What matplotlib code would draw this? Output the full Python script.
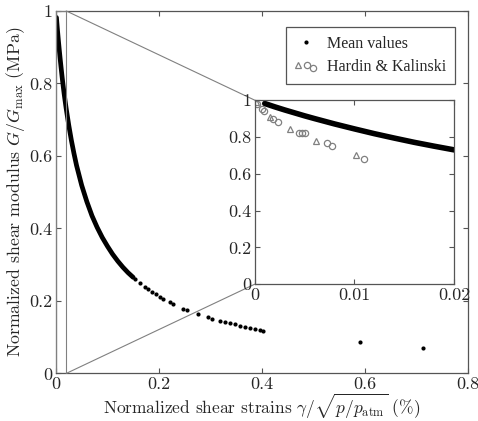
import matplotlib
matplotlib.use("Agg")
import matplotlib.pyplot as plt
from matplotlib.lines import Line2D
from matplotlib.patches import Rectangle, ConnectionPatch
from matplotlib.ticker import FuncFormatter
from matplotlib.legend_handler import HandlerBase

plt.rcParams['font.family'] = 'serif'
plt.rcParams['font.serif'] = ['cmr10', 'DejaVu Serif']
plt.rcParams['mathtext.fontset'] = 'cm'
plt.rcParams['axes.formatter.use_mathtext'] = True

# mean G/Gmax curve, densely sampled part
dense_x = [0.001, 0.002, 0.003, 0.004, 0.005, 0.006, 0.008, 0.010, 0.012, 0.014,
           0.016, 0.018, 0.020, 0.025, 0.030, 0.035, 0.040, 0.050, 0.060, 0.070,
           0.080, 0.090, 0.100, 0.110, 0.120, 0.130, 0.140, 0.150]
dense_y = [0.982, 0.964, 0.947, 0.931, 0.915, 0.900, 0.871, 0.844, 0.818, 0.794,
           0.771, 0.750, 0.730, 0.684, 0.643, 0.607, 0.574, 0.519, 0.474, 0.435,
           0.403, 0.375, 0.351, 0.329, 0.310, 0.293, 0.278, 0.265]

# sparser mean points at larger strains
sparse_x = [0.153, 0.163, 0.173, 0.179, 0.186, 0.194, 0.202, 0.208, 0.221, 0.227,
            0.247, 0.254, 0.276, 0.295, 0.303, 0.318, 0.328, 0.338, 0.347, 0.357,
            0.367, 0.377, 0.386, 0.396, 0.402, 0.590, 0.712]
sparse_y = [0.261, 0.249, 0.238, 0.232, 0.225, 0.218, 0.211, 0.206, 0.196, 0.192,
            0.179, 0.175, 0.164, 0.155, 0.151, 0.145, 0.141, 0.138, 0.135, 0.131,
            0.128, 0.125, 0.123, 0.120, 0.118, 0.087, 0.071]

# Hardin & Kalinski
hk_tri_x = [0.0001, 0.0015, 0.0035, 0.0061, 0.0102]
hk_tri_y = [0.99, 0.91, 0.845, 0.78, 0.70]
hk_circ_x = [0.0002, 0.0007, 0.0009, 0.0018, 0.0023, 0.0044, 0.0047, 0.0050,
             0.0072, 0.0077, 0.0110]
hk_circ_y = [0.98, 0.95, 0.94, 0.90, 0.88, 0.82, 0.82, 0.82, 0.77, 0.75, 0.68]

txt = '#262626'
spine = '#555555'
gray = '#808080'
fmt = FuncFormatter(lambda v, p: '%g' % round(v, 6))


class HandlerHK(HandlerBase):
    # triangle followed by two staggered circles
    def create_artists(self, legend, orig, xd, yd, w, h, fontsize, trans):
        tri, circ = orig
        out = []
        for (fx, fy), src in [((0.15, 0.55), tri), ((0.55, 0.5), circ), ((0.8, 0.3), circ)]:
            m = Line2D([fx * w - xd], [fy * h - yd], ls='none', marker=src.get_marker(),
                       mfc='none', mec=src.get_mec(), ms=src.get_ms(), mew=src.get_mew(),
                       transform=trans)
            out.append(m)
        return out


def style(ax, size):
    for s in ax.spines.values():
        s.set_color(spine)
        s.set_linewidth(0.9)
    ax.tick_params(direction='in', top=True, right=True, length=3.5, width=0.8,
                   color=spine, labelcolor=txt, labelsize=size, pad=2.5)
    ax.xaxis.set_major_formatter(fmt)
    ax.yaxis.set_major_formatter(fmt)


fig = plt.figure(figsize=(4.78, 4.21), dpi=100)
ax = fig.add_axes([0.117, 0.113, 0.862, 0.861])

ax.plot(dense_x, dense_y, '-', color='black', lw=3.4, solid_capstyle='round')
ax.plot(sparse_x, sparse_y, 'o', color='black', ms=3, mew=0)
ax.set_xlim(0, 0.8)
ax.set_ylim(0, 1)
ax.set_xticks([0, 0.2, 0.4, 0.6, 0.8])
ax.set_yticks([0, 0.2, 0.4, 0.6, 0.8, 1])
style(ax, 13)
ax.set_xlabel(r'Normalized shear strains $\gamma/\sqrt{p/p_{\mathrm{atm}}}$ (%)',
              fontsize=12.5, color=txt)
ax.set_ylabel(r'Normalized shear modulus $G/G_{\max}$ (MPa)',
              fontsize=12.8, color=txt)
ax.xaxis.set_label_coords(0.5, -0.05)
ax.yaxis.set_label_coords(-0.07, 0.5)

# zoom region and connectors
ax.add_patch(Rectangle((0, 0), 0.02, 1, fill=False, edgecolor=gray, lw=0.8, zorder=3))

axins = fig.add_axes([0.533, 0.325, 0.417, 0.437])
axins.plot(dense_x, dense_y, '-', color='black', lw=4, solid_capstyle='round')
tri, = axins.plot(hk_tri_x, hk_tri_y, '^', mfc='none', mec=gray, ms=4.5, mew=0.9)
circ, = axins.plot(hk_circ_x, hk_circ_y, 'o', mfc='none', mec=gray, ms=4.5, mew=0.9)
axins.set_xlim(0, 0.02)
axins.set_ylim(0, 1)
axins.set_xticks([0, 0.01, 0.02])
axins.set_yticks([0, 0.2, 0.4, 0.6, 0.8, 1])
style(axins, 13)

for ya, yb in [(1, 1), (0, 0)]:
    cp = ConnectionPatch(xyA=(0.02, ya), coordsA=ax.transData,
                         xyB=(0, yb), coordsB=axins.transAxes,
                         color=gray, lw=0.8, zorder=1)
    fig.add_artist(cp)
axins.set_zorder(5)

mean_h = Line2D([], [], marker='o', ls='none', color='black', ms=3, mew=0)
leg = ax.legend([mean_h, (tri, circ)], ['Mean values', 'Hardin & Kalinski'],
                handler_map={tuple: HandlerHK()},
                loc='upper right', bbox_to_anchor=(0.968, 0.956), borderaxespad=0,
                prop={'family': 'Liberation Serif', 'size': 11.5},
                fancybox=False, framealpha=1, edgecolor=spine,
                borderpad=0.55, handlelength=1.4, handletextpad=0.6, labelspacing=0.45)
leg.get_frame().set_linewidth(0.9)
for t in leg.get_texts():
    t.set_color(txt)
leg.set_zorder(6)

fig.savefig('out.png', dpi=100)
